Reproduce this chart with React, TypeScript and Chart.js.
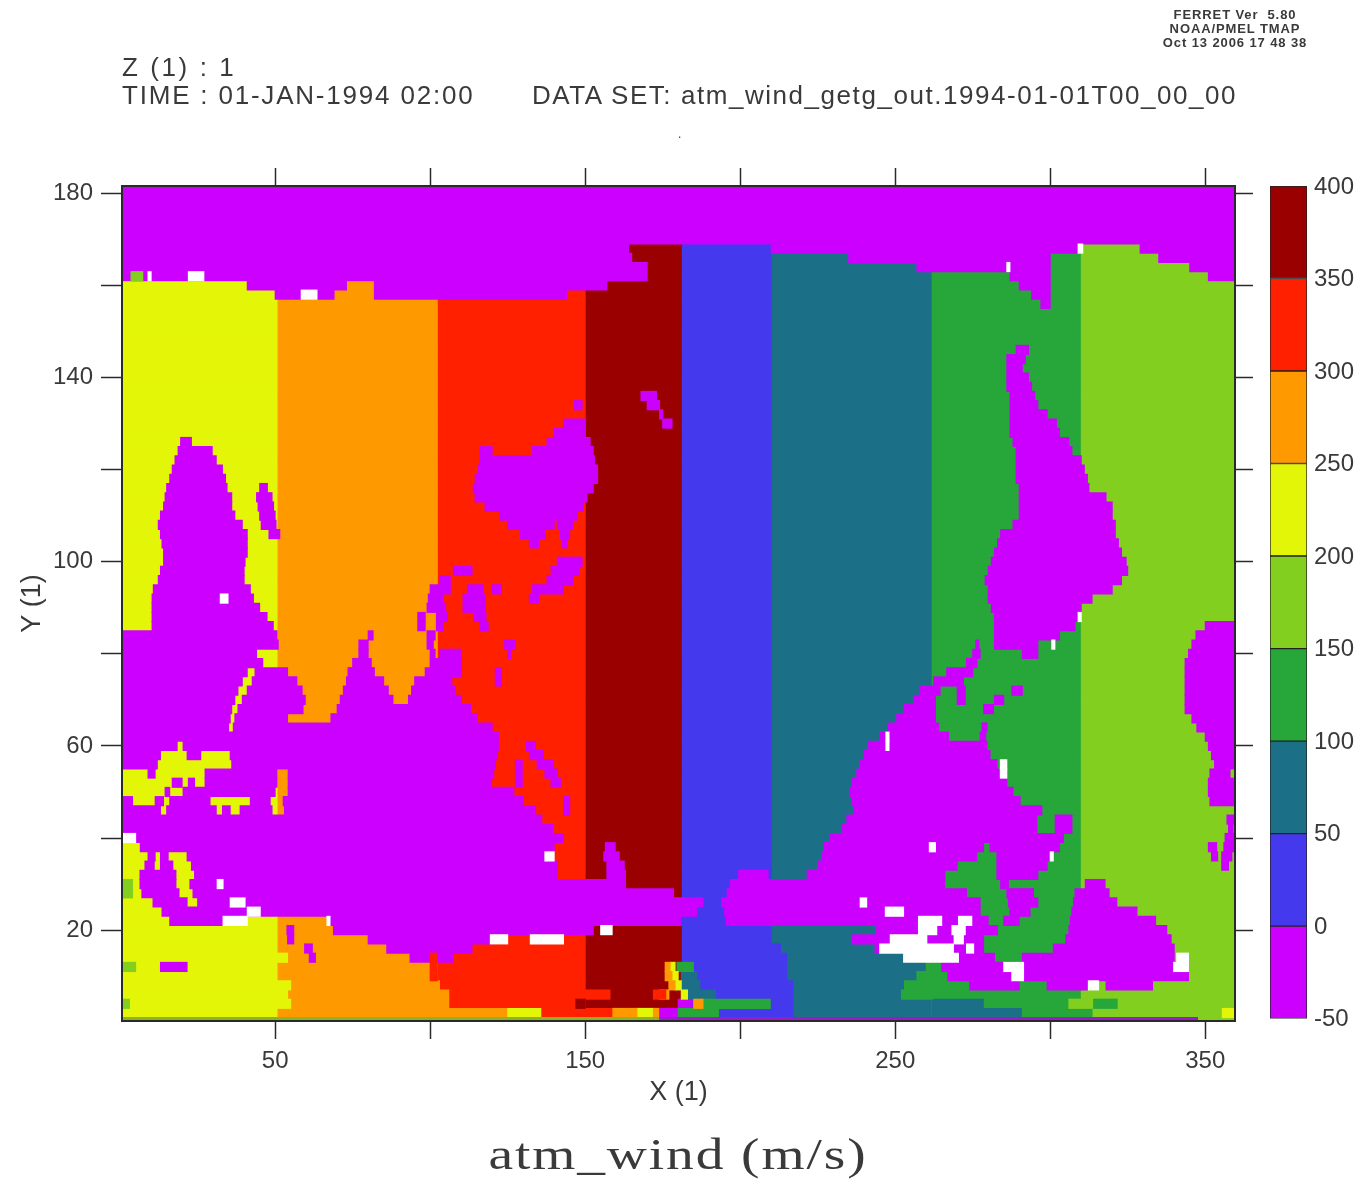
import React, { useEffect, useRef } from "react";
import { Chart, registerables } from "chart.js";

Chart.register(...registerables);

const X_MIN = 0.6;
const X_MAX = 359.6;
const Y_MIN = 0.26;
const Y_MAX = 181.6;

const xTickValues = [50, 100, 150, 200, 250, 300, 350];
const xTickLabels = [50, 150, 250, 350];
const yTickValues = [20, 40, 60, 80, 100, 120, 140, 160, 180];
const yTickLabels = [20, 60, 100, 140, 180];

const levelEdges = [-50, 0, 50, 100, 150, 200, 250, 300, 350, 400];
const levelColours = ["#cc00ff", "#4439ec", "#1b7088", "#27a63a", "#82cf20", "#e4f607", "#ff9900", "#ff2000", "#9b0000"];

// Longitude bands of the field: [x start, x end, level index]
const bandRuns = [
  [0, 50.6, 5],
  [50.6, 102.3, 6],
  [102.3, 150, 7],
  [150, 181, 8],
  [181, 210, 1],
  [210, 261.6, 2],
  [261.6, 309.7, 3],
  [309.7, 361, 4],
];
const fullPurpleRows = [182, 180, 178, 176, 174, 172, 170];
const bandRows = Array.from({ length: 92 }, (_, i) => i * 2);

// Rows of the lowest level: [y, x0, x1, x0, x1, ...]
const landRows = [
  [168, 0, 164, 210, 310, 329, 361],
  [166, 0, 165, 235, 300, 335, 361],
  [164, 0, 170, 257, 300, 345, 361],
  [162, 0, 170, 287, 300, 351, 361],
  [160, 41, 73, 82, 157, 290, 300],
  [158, 50, 69, 82, 144, 294, 300],
  [156, 297, 300],
  [146, 289, 293],
  [144, 286, 292],
  [142, 286, 291],
  [140, 286, 293],
  [138, 286, 294],
  [136, 168, 173, 287, 295],
  [134, 146.5, 149, 170, 174, 287, 296],
  [132, 174, 175, 287, 299],
  [130, 143, 150, 175, 178, 287, 302],
  [128, 140, 150, 287, 303],
  [126, 19.5, 23, 137.7, 151.6, 288, 306],
  [124, 18.7, 29.7, 116, 120, 133, 152.6, 289, 307],
  [122, 17.7, 31, 116, 153, 289, 310],
  [120, 16.8, 33, 115.5, 154, 289, 311],
  [118, 16, 34, 114.5, 154, 289, 312],
  [116, 15, 34.5, 45, 47.5, 113.9, 152.6, 290, 312.5],
  [114, 14.5, 36, 44, 49, 114.5, 150.6, 290, 318],
  [112, 14, 36, 44.5, 49.5, 117.7, 149.4, 290, 320],
  [110, 13, 37, 45, 50, 122.6, 147.4, 290, 320],
  [108, 12.3, 39.4, 45.5, 50.3, 125, 140, 141, 146, 288, 321],
  [106, 13, 41, 48, 51.5, 129, 137, 142, 145, 284, 321],
  [104, 13.5, 41, 132, 135, 142.6, 144, 283, 322],
  [102, 14, 41, 282, 323],
  [100, 14, 40.3, 141, 149, 281, 324.5],
  [98, 13, 40, 107.5, 113.5, 139, 148, 280, 325],
  [96, 12.3, 40, 103, 106.5, 137.7, 146, 279, 323],
  [94, 10.7, 42, 100, 106.5, 112, 117, 120, 123, 133, 143, 280, 320],
  [92, 10.3, 43, 99.4, 104, 110.6, 117.7, 132, 135, 280, 313.5],
  [90, 10.3, 45, 99, 105, 110.6, 117.7, 281, 310],
  [88, 10.3, 47.4, 96, 98.4, 102, 105.5, 114, 118, 282, 309],
  [86, 10.3, 49.4, 96, 98.4, 102, 104, 116, 118.7, 282, 308, 350, 361],
  [84, 0, 50.6, 80, 81.6, 99, 101.6, 282, 303, 347, 361],
  [82, 0, 51, 77, 80, 99, 101, 124, 127.5, 276, 277, 282, 296, 345.7, 361],
  [80, 0, 44, 77, 80, 100, 101.6, 103, 110, 125, 126, 275, 277.4, 291, 296, 344.6, 361],
  [78, 0, 46, 75, 81, 100, 110, 273, 276.3, 343.5, 361],
  [76, 0, 41, 43.5, 54, 73.5, 82, 98.4, 110, 121, 123, 266.6, 275, 343.5, 361],
  [74, 0, 39.4, 42.6, 57, 73, 85, 95, 107, 121, 123, 262.4, 272, 343.5, 361],
  [72, 0, 38, 41, 58.7, 72, 86.5, 94, 108, 258, 264.5, 270, 272.6, 287.6, 291, 343.5, 361],
  [70, 0, 37, 39.4, 59.7, 71, 88, 93, 110, 256, 263, 270, 272.6, 282, 285, 343.5, 361],
  [68, 0, 36, 38, 59, 70, 113, 252.7, 263, 278.5, 281.7, 343.5, 361],
  [66, 0, 35.5, 37, 54, 68, 115, 250.5, 263, 345.7, 361],
  [64, 0, 35, 36.5, 120, 247.8, 264, 278, 279.6, 347.3, 361],
  [62, 0, 122, 245, 267.2, 277.4, 279.2, 350, 361],
  [60, 0, 18.4, 20.3, 122, 131, 134, 241.4, 279.6, 351, 361],
  [58, 0, 13, 21.6, 26, 35.5, 121.6, 132, 136.5, 239.8, 280.6, 352, 361],
  [56, 0, 12, 36, 121, 127.5, 129.7, 134.5, 139.7, 238.7, 282.8, 353, 361],
  [54, 9, 11.3, 27.4, 50.6, 54.2, 120.5, 127.5, 129.7, 137, 141, 237.6, 284.4, 351.5, 358],
  [52, 16.8, 20, 22, 24, 27.4, 50.6, 54.2, 119.7, 127.5, 129.7, 139, 142, 236, 286, 351, 361],
  [50, 14.5, 16, 20.3, 50, 54.2, 127, 235.5, 288, 351, 361],
  [48, 0, 4, 11.3, 14, 16, 29, 42, 48.4, 52.6, 130, 143, 145, 236, 290.3, 351.5, 361],
  [46, 0, 13, 15, 31, 33, 35.5, 38.7, 49, 53, 134, 143, 145, 236.6, 297.3],
  [44, 0, 136, 234.4, 295.7, 301.6, 307, 357, 361],
  [42, 0, 139.5, 232.8, 295.7, 301.6, 307, 357.5, 359],
  [40, 0, 143, 229, 304.3, 356.4, 361],
  [38, 6.5, 140, 156.5, 159.7, 226.9, 278.5, 280.6, 303, 351, 353.7, 356, 361],
  [36, 9, 11.3, 13, 15.5, 21.6, 139, 156, 161, 226.5, 276.3, 282.8, 301, 352, 354, 355.3, 358.6],
  [34, 8, 11, 13, 17, 23, 141, 157, 162.6, 225, 270, 282.8, 299, 355.3, 357.5],
  [32, 6.4, 18, 24, 141, 157, 163, 199.5, 209, 221.6, 266, 282.8, 296],
  [30, 6.4, 18, 22.5, 163, 196.8, 266, 284, 286.5, 311.3, 317.7],
  [28, 7, 19, 23.5, 178.5, 195.8, 273, 286, 294.6, 308, 319],
  [26, 10.6, 21.6, 25, 188, 194, 277.4, 286.5, 296, 307.5, 321.5],
  [24, 13.5, 186, 195, 277.4, 287, 293.5, 307, 328],
  [22, 16, 33, 67.7, 181, 195.5, 280, 285, 290, 306.5, 334],
  [20, 53.8, 56, 68.8, 152.6, 244, 283, 306, 337.6],
  [18, 54, 56, 80, 120, 236, 278.5, 305, 339],
  [16, 59.5, 62, 86, 113.5, 243.5, 278.5, 301, 340],
  [14, 61, 63, 93.5, 107.4, 270, 282, 291, 340],
  [12, 13, 21.6, 265, 344.6],
  [10, 267, 344.6],
  [8, 274, 290, 299, 312, 318, 333],
  [4, 180, 184.5],
  [2, 173.7, 180],
];

// Small patches: [y, x0, x1]
const missingCells = [
  [168, 309, 310.5], [164, 286, 287], [162, 9, 10], [162, 22, 27], [158, 58.4, 63.5], [92, 32.3, 34.8],
  [88, 309, 310], [82, 300.5, 301.5], [62, 247, 248], [60, 247, 248], [56, 283.9, 286], [54, 283.9, 286],
  [40, 1, 5], [38, 261, 263], [36, 137, 140], [36, 300, 301], [30, 31.3, 33.2], [26, 35.5, 40.3],
  [26, 238.7, 240.8], [24, 41, 45.2], [24, 246.8, 252.7], [22, 33.2, 41], [22, 66.7, 67.7], [22, 257.5, 265],
  [22, 270.4, 274.7], [20, 155, 158.7], [20, 257.5, 263.4], [20, 268.3, 272.6], [18, 119.4, 125],
  [18, 132.3, 143], [18, 248.4, 260.2], [18, 269, 272], [16, 245, 268.8], [16, 273, 275.3], [14, 252.7, 270.4],
  [14, 340.8, 344.6], [12, 285, 291.4], [12, 339.8, 344.6], [10, 287.6, 291.4], [8, 312.3, 315.6],
];
const lightGreenCells = [[162, 3.5, 7.3], [30, 0, 4], [28, 0, 4], [12, 0, 5], [4, 0, 3], [4, 306, 313.5], [0, 347.5, 361]];
const greenCells = [[12, 260, 262], [10, 257, 262], [8, 253, 262], [6, 252, 262], [12, 179.6, 184.9], [4, 188, 209.7], [2, 180, 193], [4, 314, 321.6], [2, 291, 313.5]];
const tealCells = [[10, 181, 186], [8, 181, 187], [6, 183, 192], [4, 262, 278.4], [2, 262, 291]];
const blueCells = [[16, 210, 213], [14, 210, 215], [12, 210, 215], [10, 210, 215], [8, 210, 217], [6, 210, 217], [4, 210, 217], [2, 210, 217]];
const yellowCells = [[14, 50.6, 54], [8, 50.6, 55], [6, 50.6, 54], [4, 50.6, 55], [12, 177.4, 179], [10, 178, 180], [8, 179, 181], [6, 181, 183], [2, 124.7, 136], [2, 166.7, 172], [2, 355.5, 359.5]];
const orangeCells = [[12, 175.8, 177.4], [10, 175.8, 178], [8, 177, 179], [6, 174, 177], [4, 185, 188], [2, 102, 124.7], [2, 158.6, 166.7], [2, 172, 173.7], [8, 102, 103], [6, 102, 106], [4, 102, 106]];
const redCells = [[14, 100, 102.3], [12, 100, 102.3], [10, 100, 102.3], [6, 150, 158], [6, 172, 176], [2, 136, 158.6]];
const darkRedCells = [[4, 147, 150]];
const edgeOliveCells = [[0, 0, 173.7]];
const edgeVioletCells = [[0, 173.7, 347.5]];

const headerLines = ["Z (1) : 1", "TIME : 01-JAN-1994 02:00"];
const datasetLine = "DATA SET: atm_wind_getg_out.1994-01-01T00_00_00";
const stampLines = ["FERRET Ver  5.80", "NOAA/PMEL TMAP", "Oct 13 2006 17 48 38"];
const plotTitle = "atm_wind (m/s)";

const TEXT = "#3a3a3a";
const SANS = "'Liberation Sans', sans-serif";

function cellPoints(cells: number[][]) {
  return cells.map(([y, a, b]) => ({ x: [a, b], y }));
}
function rowPoints(rows: number[][]) {
  const out: { x: number[]; y: number }[] = [];
  rows.forEach((row) => {
    for (let i = 1; i < row.length; i += 2) out.push({ x: [row[i], row[i + 1]], y: row[0] });
  });
  return out;
}
function fit(axis: any, size: number, vertical: boolean) {
  if (vertical) axis.width = size;
  else axis.height = size;
}

export default function App() {
  const mapRef = useRef<HTMLCanvasElement>(null);
  const barRef = useRef<HTMLCanvasElement>(null);

  useEffect(() => {
    const layer = (label: string, color: string, data: any[]) => ({
      label,
      data,
      backgroundColor: color,
      borderWidth: 0,
      inflateAmount: 0.5,
      grouped: false,
      barPercentage: 1,
      categoryPercentage: 1,
      xAxisID: "x",
      yAxisID: "y",
    });
    const c = levelColours;
    const datasets: any[] = [
      layer("missing", "#ffffff", cellPoints(missingCells)),
      layer("edge olive", "#8db324", cellPoints(edgeOliveCells)),
      layer("edge violet", "#9a1cc8", cellPoints(edgeVioletCells)),
      layer("patch 8", c[8], cellPoints(darkRedCells)),
      layer("patch 7", c[7], cellPoints(redCells)),
      layer("patch 6", c[6], cellPoints(orangeCells)),
      layer("patch 5", c[5], cellPoints(yellowCells)),
      layer("patch 4", c[4], cellPoints(lightGreenCells)),
      layer("patch 3", c[3], cellPoints(greenCells)),
      layer("patch 2", c[2], cellPoints(tealCells)),
      layer("patch 1", c[1], cellPoints(blueCells)),
      layer("land", c[0], [
        ...fullPurpleRows.map((y) => ({ x: [0, 361], y })),
        ...rowPoints(landRows),
      ]),
      ...bandRuns.map(([a, b, level]) =>
        layer("band " + level, c[level], bandRows.map((y) => ({ x: [a, b], y })))
      ),
    ];

    const grid = (len: number) => ({
      drawOnChartArea: false,
      drawTicks: true,
      tickLength: len,
      tickColor: "#2a2a2a",
      tickWidth: 1.5,
      offset: false,
    });
    const border = { display: true, color: "#2a2a2a", width: 2, z: 1 };
    const font = { family: "'Liberation Sans', sans-serif", size: 24 };
    const titleFont = { family: "'Liberation Sans', sans-serif", size: 27 };
    const setTicks = (values: number[]) => (axis: any) => {
      axis.ticks = values.map((value) => ({ value }));
    };

    const map = new Chart(mapRef.current!, {
      type: "bar",
      data: { datasets },
      options: {
        indexAxis: "y",
        animation: false,
        responsive: false,
        events: [],
        layout: { padding: { left: 16, bottom: 71, top: 0, right: 0 } },
        plugins: { legend: { display: false }, tooltip: { enabled: false }, title: { display: false } },
        scales: {
          x: {
            type: "linear",
            position: "bottom",
            min: X_MIN,
            max: X_MAX,
            offset: false,
            beginAtZero: false,
            grid: grid(18),
            border,
            afterBuildTicks: setTicks(xTickValues),
            afterFit: (a: any) => fit(a, 88, false),
            title: { display: true, text: "X (1)", color: TEXT, font: titleFont, padding: 0 },
            ticks: {
              color: TEXT,
              font,
              padding: 8,
              autoSkip: false,
              maxRotation: 0,
              callback: (v: any) => (xTickLabels.includes(v) ? String(v) : ""),
            },
          },
          x2: {
            type: "linear",
            position: "top",
            axis: "x",
            min: X_MIN,
            max: X_MAX,
            offset: false,
            grid: grid(18),
            border,
            afterBuildTicks: setTicks(xTickValues),
            afterFit: (a: any) => fit(a, 186, false),
            ticks: { display: false, autoSkip: false },
          },
          y: {
            type: "linear",
            position: "left",
            min: Y_MIN,
            max: Y_MAX,
            offset: false,
            grid: grid(21),
            border,
            afterBuildTicks: setTicks(yTickValues),
            afterFit: (a: any) => fit(a, 106, true),
            title: { display: true, text: "Y (1)", color: TEXT, font: titleFont, padding: 0 },
            ticks: {
              color: TEXT,
              font,
              padding: 8,
              autoSkip: false,
              callback: (v: any) => (yTickLabels.includes(v) ? String(v) : ""),
            },
          },
          y2: {
            type: "linear",
            position: "right",
            axis: "y",
            min: Y_MIN,
            max: Y_MAX,
            offset: false,
            grid: grid(18),
            border,
            afterBuildTicks: setTicks(yTickValues),
            afterFit: (a: any) => fit(a, 128, true),
            ticks: { display: false, autoSkip: false },
          },
        },
      },
    } as any);

    const bar = new Chart(barRef.current!, {
      type: "bar",
      data: {
        labels: ["level"],
        datasets: levelColours.map((color, i) => ({
          label: String(levelEdges[i]),
          data: [[levelEdges[i], levelEdges[i + 1]]],
          backgroundColor: color,
          borderColor: "#222",
          borderWidth: 1,
          borderSkipped: false,
          grouped: false,
          barPercentage: 1,
          categoryPercentage: 1,
        })),
      } as any,
      options: {
        animation: false,
        responsive: false,
        events: [],
        layout: { padding: { left: 10, top: 26, bottom: 16, right: 0 } },
        plugins: { legend: { display: false }, tooltip: { enabled: false } },
        scales: {
          x: { display: false },
          y: {
            position: "right",
            min: -50,
            max: 400,
            grid: { display: false, drawTicks: false },
            border: { display: false },
            afterFit: (a: any) => fit(a, 56, true),
            ticks: { stepSize: 50, color: TEXT, font, padding: 7, labelOffset: 1 },
          },
        },
      },
    } as any);

    return () => {
      map.destroy();
      bar.destroy();
    };
  }, []);

  const text = (style: React.CSSProperties): React.CSSProperties => ({
    position: "absolute",
    whiteSpace: "pre",
    color: TEXT,
    fontFamily: SANS,
    lineHeight: 1,
    ...style,
  });

  return (
    <div style={{ position: "absolute", left: 0, top: 0, width: 1363, height: 1180, background: "#fff", overflow: "hidden" }}>
      <canvas ref={mapRef} width={1363} height={1180} style={{ position: "absolute", left: 0, top: 0 }} />
      <canvas ref={barRef} width={103} height={880} style={{ position: "absolute", left: 1260, top: 160 }} />
      <div style={text({ left: 122, top: 54, fontSize: 26, letterSpacing: 2.6 })}>{headerLines[0]}</div>
      <div style={text({ left: 122, top: 82, fontSize: 26, letterSpacing: 1.8 })}>{headerLines[1]}</div>
      <div style={text({ left: 532, top: 82, fontSize: 26, letterSpacing: 1.55 })}>{datasetLine}</div>
      <div style={text({ left: 1140, width: 190, textAlign: "center", top: 8, fontSize: 13, fontWeight: 700, letterSpacing: 0.9, lineHeight: "14px" })}>
        {stampLines.join("\n")}
      </div>
      <div style={text({ left: 678, top: 128, fontSize: 12 })}>.</div>
      <div style={text({ left: 378, width: 600, textAlign: "center", top: 1133, fontSize: 44, fontFamily: "'Liberation Serif', serif", letterSpacing: 1.5, transform: "scaleX(1.26)" })}>
        {plotTitle}
      </div>
    </div>
  );
}
